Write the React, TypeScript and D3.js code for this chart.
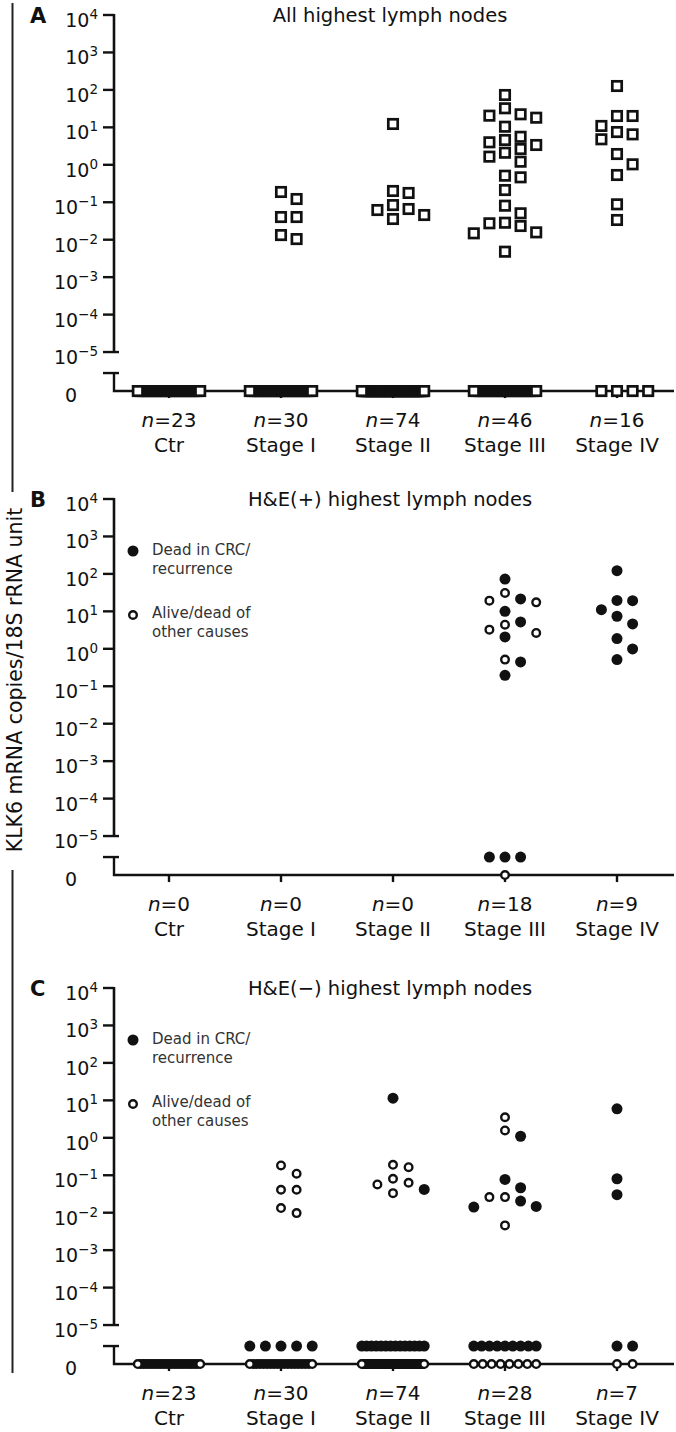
import * as d3 from "d3";

// ---- data ----
const groups = ["Ctr", "Stage I", "Stage II", "Stage III", "Stage IV"];
const exponents = [4, 3, 2, 1, 0, -1, -2, -3, -4, -5];

// A: all highest lymph nodes
const nA = [23, 30, 74, 46, 16];
const aValues: number[][] = [
  [],
  [0.188, 0.122, 0.0403, 0.0403, 0.0133, 0.0104],
  [12.3, 0.2, 0.177, 0.084, 0.066, 0.062, 0.0456, 0.0357],
  [73.1, 32.3, 22.3, 20.5, 18.1, 10.4, 5.6, 4.6, 3.99, 3.38, 2.64, 2.1, 1.65, 1.21, 0.512,
    0.463, 0.212, 0.0809, 0.0507, 0.0284, 0.0274, 0.0232, 0.0157, 0.0148, 0.00478],
  [127, 20.1, 20.1, 10.9, 7.5, 6.5, 4.8, 1.94, 1.03, 0.534, 0.088, 0.0336],
];
const aZeros = [23, 24, 66, 21, 4];

// B: H&E(+) highest lymph nodes
const nB = [0, 0, 0, 18, 9];
const bDead: number[][] = [
  [], [], [],
  [73, 21.4, 10.0, 5.2, 2.08, 0.447, 0.196],
  [122, 19.6, 19.3, 11.1, 7.4, 4.6, 1.87, 0.99, 0.515],
];
const bAlive: number[][] = [[], [], [], [31, 19.3, 17.4, 4.4, 3.25, 2.65, 0.515], []];
const bDeadZero = [0, 0, 0, 3, 0];
const bAliveZero = [0, 0, 0, 1, 0];

// C: H&E(-) highest lymph nodes
const nC = [23, 30, 74, 28, 7];
const cDead: number[][] = [
  [], [],
  [11.4, 0.0418],
  [1.1, 0.0773, 0.0464, 0.0204, 0.0147, 0.0141],
  [5.93, 0.0807, 0.0302],
];
const cAlive: number[][] = [
  [],
  [0.183, 0.11, 0.041, 0.041, 0.0133, 0.00976],
  [0.19, 0.164, 0.0807, 0.063, 0.0568, 0.0333],
  [3.54, 1.57, 0.0261, 0.0261, 0.00458],
  [],
];
const cDeadZero = [0, 5, 14, 9, 2];
const cAliveZero = [23, 19, 52, 8, 2];

const titles = ["All highest lymph nodes", "H&E(+) highest lymph nodes", "H&E(\u2212) highest lymph nodes"];
const legendLabels = [["Dead in CRC/", "recurrence"], ["Alive/dead of", "other causes"]];

// ---- layout ----
const FONT = "'DejaVu Sans', Arial, sans-serif";
const INK = "#111";
const DECADE = 37.45;
const AXIS_X = 114;
const AXIS_END = 674;
const SLOT = 15.6;

const x = d3.scalePoint<string>().domain(groups).range([169, 617]);

type Pt = { v: number; dead: boolean };
type Placed = { slot: number; py: number; dead: boolean };
type Kind = "square" | "dead" | "alive";

// greedy column swarm, highest values first
function swarm(points: Pt[], y: (v: number) => number): Placed[] {
  const prefs = [0, 1, -1, 2, -2, 3, -3, 4, -4];
  const placed: Placed[] = [];
  [...points]
    .sort((a, b) => b.v - a.v)
    .forEach((p) => {
      const py = y(p.v);
      const slot =
        prefs.find((s) => !placed.some((q) => q.slot === s && Math.abs(q.py - py) < 12)) ?? 0;
      placed.push({ slot, py, dead: p.dead });
    });
  return placed;
}

// zero values packed along the row; when crowded the inner marks merge into a solid run
function zeroRowMarks(n: number) {
  if (n <= 5) return d3.range(n).map((i) => ({ o: i - Math.floor((n - 1) / 2), solid: false }));
  const offs = d3.range(n).map((i) => -2 + (4 * i) / (n - 1));
  const crowded = (4 * SLOT) / (n - 1) < 5;
  return [
    ...offs.slice(1, -1).map((o) => ({ o, solid: crowded })),
    { o: offs[0], solid: false },
    { o: offs[n - 1], solid: false },
  ];
}

function Marker({ cx, cy, kind, solid }: { cx: number; cy: number; kind: Kind; solid?: boolean }) {
  const fill = solid ? INK : "#fff";
  if (kind === "square")
    return <rect x={cx - 4.7} y={cy - 4.7} width={9.4} height={9.4} fill={fill} stroke={INK} strokeWidth={2.7} />;
  if (kind === "dead") return <circle cx={cx} cy={cy} r={5.5} fill={INK} />;
  return <circle cx={cx} cy={cy} r={3.8} fill={fill} stroke={INK} strokeWidth={2.4} />;
}

interface PanelProps {
  top: number;
  letter: string;
  title: string;
  counts: number[];
  squares?: boolean;
  dead: number[][];
  alive: number[][];
  deadZero: number[];
  aliveZero: number[];
  legend?: boolean;
}

function Panel({ top, letter, title, counts, squares, dead, alive, deadZero, aliveZero, legend }: PanelProps) {
  const y = d3.scaleLog().domain([1e-5, 1e4]).range([top + 9 * DECADE, top]);
  const yLow = y(1e-5);
  const yBreak = yLow + 21;
  const yZero = yLow + 39;
  const zeroRow = d3.scaleOrdinal<string, number>().domain(["alive", "dead"]).range([yZero, yBreak]);

  return (
    <g>
      <text x={30} y={top + 8} fontFamily={FONT} fontWeight="bold" fontSize={21} fill={INK}>
        {letter}
      </text>
      <text x={390} y={top + 7} textAnchor="middle" fontFamily={FONT} fontSize={19.5} fill={INK}>
        {title}
      </text>

      {/* y axis, upper (log) segment */}
      <line x1={AXIS_X} x2={AXIS_X} y1={top - 1} y2={yLow + 1} stroke={INK} strokeWidth={2.6} />
      {exponents.map((e) => {
        const ty = y(Math.pow(10, e));
        return (
          <g key={e}>
            <line x1={AXIS_X - 11} x2={e === -5 ? AXIS_X + 5 : AXIS_X} y1={ty} y2={ty} stroke={INK} strokeWidth={2.4} />
            <text x={98} y={ty + 12} textAnchor="end" fontFamily={FONT} fontSize={19} fill={INK}>
              10
              <tspan dy={-8} fontSize={13.5}>
                {e < 0 ? `\u2212${-e}` : `${e}`}
              </tspan>
            </text>
          </g>
        );
      })}

      {/* lower segment with the zero line */}
      <line x1={AXIS_X - 11} x2={AXIS_X + 5} y1={yBreak} y2={yBreak} stroke={INK} strokeWidth={2.4} />
      <path d={`M${AXIS_X},${yBreak}V${yZero}H${AXIS_END}`} fill="none" stroke={INK} strokeWidth={2.4} />
      <text x={77} y={yZero + 11} textAnchor="end" fontFamily={FONT} fontSize={19} fill={INK}>
        0
      </text>

      {groups.map((g, i) => (
        <g key={g}>
          <line x1={x(g)} x2={x(g)} y1={yZero} y2={yZero + 7} stroke={INK} strokeWidth={2.4} />
          <text x={x(g)} y={yZero + 36} textAnchor="middle" fontFamily={FONT} fontSize={20} fill={INK}>
            <tspan fontStyle="italic">n</tspan>={counts[i]}
          </text>
          <text x={x(g)} y={yZero + 61} textAnchor="middle" fontFamily={FONT} fontSize={20} fill={INK}>
            {g}
          </text>
        </g>
      ))}

      {/* zero rows */}
      {groups.map((g, i) => (
        <g key={"z" + g}>
          {zeroRowMarks(aliveZero[i]).map((m, k) => (
            <Marker
              key={"a" + k}
              cx={(x(g) ?? 0) + m.o * SLOT}
              cy={zeroRow("alive")}
              kind={squares ? "square" : "alive"}
              solid={m.solid}
            />
          ))}
          {zeroRowMarks(deadZero[i]).map((m, k) => (
            <Marker key={"d" + k} cx={(x(g) ?? 0) + m.o * SLOT} cy={zeroRow("dead")} kind="dead" />
          ))}
        </g>
      ))}

      {/* measured values */}
      {groups.map((g, i) => {
        const pts: Pt[] = [
          ...dead[i].map((v) => ({ v, dead: true })),
          ...alive[i].map((v) => ({ v, dead: false })),
        ];
        return (
          <g key={"p" + g}>
            {swarm(pts, y).map((p, k) => (
              <Marker
                key={k}
                cx={(x(g) ?? 0) + p.slot * SLOT}
                cy={p.py}
                kind={squares ? "square" : p.dead ? "dead" : "alive"}
              />
            ))}
          </g>
        );
      })}

      {legend && (
        <g fontFamily={FONT} fontSize={15} fill="#333">
          <Marker cx={133} cy={top + 52} kind="dead" />
          <text x={152} y={top + 56}>{legendLabels[0][0]}</text>
          <text x={152} y={top + 75}>{legendLabels[0][1]}</text>
          <Marker cx={133} cy={top + 116} kind="alive" />
          <text x={152} y={top + 119}>{legendLabels[1][0]}</text>
          <text x={152} y={top + 138}>{legendLabels[1][1]}</text>
        </g>
      )}
    </g>
  );
}

const none = groups.map(() => 0);
const empty = groups.map(() => [] as number[]);

export default function App() {
  return (
    <svg
      width={676}
      height={1432}
      style={{ position: "absolute", left: 0, top: 0, background: "#fff" }}
    >
      <rect width={676} height={1432} fill="#fff" />
      <line x1={12.5} x2={12.5} y1={3} y2={492} stroke="#222" strokeWidth={2} />
      <line x1={12.5} x2={12.5} y1={870} y2={1373} stroke="#222" strokeWidth={2} />
      <text
        transform="translate(22,680) rotate(-90)"
        textAnchor="middle"
        fontFamily={FONT}
        fontSize={20.5}
        fill={INK}
      >
        KLK6 mRNA copies/18S rRNA unit
      </text>

      <Panel
        top={15}
        letter="A"
        title={titles[0]}
        counts={nA}
        squares
        dead={empty}
        alive={aValues}
        deadZero={none}
        aliveZero={aZeros}
      />
      <Panel
        top={499}
        letter="B"
        title={titles[1]}
        counts={nB}
        dead={bDead}
        alive={bAlive}
        deadZero={bDeadZero}
        aliveZero={bAliveZero}
        legend
      />
      <Panel
        top={988}
        letter="C"
        title={titles[2]}
        counts={nC}
        dead={cDead}
        alive={cAlive}
        deadZero={cDeadZero}
        aliveZero={cAliveZero}
        legend
      />
    </svg>
  );
}
